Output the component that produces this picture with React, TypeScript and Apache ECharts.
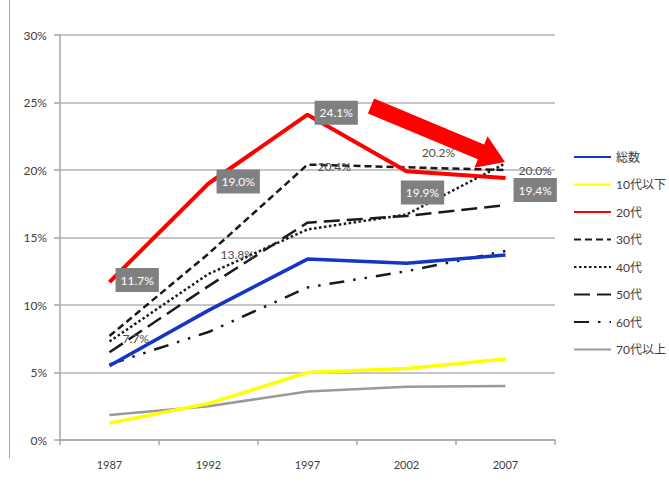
import React, { useEffect, useRef } from "react";
import * as echarts from "echarts";

const years = ["1987", "1992", "1997", "2002", "2007"];
const seriesNames = ["総数", "10代以下", "20代", "30代", "40代", "50代", "60代", "70代以上"];
const total = [5.5, 9.6, 13.4, 13.1, 13.7];
const teens = [1.25, 2.7, 5.0, 5.3, 6.0];
const twenties = [11.7, 19.0, 24.1, 19.9, 19.4];
const thirties = [7.7, 13.8, 20.4, 20.2, 20.0];
const forties = [7.3, 12.3, 15.6, 16.7, 20.5];
const fifties = [6.5, 11.4, 16.1, 16.6, 17.4];
const sixties = [5.6, 8.0, 11.3, 12.5, 14.0];
const seventies = [1.85, 2.5, 3.6, 3.95, 4.0];
const yTicks = [0, 5, 10, 15, 20, 25, 30];

const FONT = "Lato, 'Noto Sans CJK JP', sans-serif";

// label placement (style only)
const redLabelPos = [
  { position: "right", distance: 6, offset: [0, -2] },
  { position: "right", distance: 8, offset: [0, -2] },
  { position: "right", distance: 7, offset: [0, -2] },
  { position: "bottom", distance: 9, offset: [16, 0] },
  { position: "right", distance: 8, offset: [0, 12] },
];
const blackLabelPos = [
  { position: "right", distance: 13, offset: [0, 2] },
  { position: "right", distance: 12, offset: [0, 1] },
  { position: "right", distance: 10, offset: [0, 2] },
  { position: "top", distance: 9, offset: [32, 0] },
  { position: "right", distance: 13, offset: [0, 0] },
];

const fmt = (v: number) => v.toFixed(1) + "%";

export default function App() {
  const ref = useRef<HTMLDivElement>(null);
  useEffect(() => {
    if (!ref.current) return;
    const chart = echarts.init(ref.current, undefined, { renderer: "svg" });

    const mk = (name: string, data: any[], color: string, width: number, type: any, z = 2) => ({
      name,
      type: "line",
      data,
      symbol: "none",
      z,
      lineStyle: { color, width, type, cap: "butt" },
      itemStyle: { color },
    });

    const labelSeries = (name: string, vals: number[], pos: any[], extra: any, z: number) => ({
      name,
      type: "line",
      z,
      silent: true,
      symbol: "circle",
      symbolSize: 0.1,
      showSymbol: true,
      itemStyle: { color: "rgba(0,0,0,0)" },
      lineStyle: { width: 0, opacity: 0 },
      data: vals.map((v, i) => ({
        value: v,
        label: {
          show: true,
          formatter: fmt(v),
          position: pos[i].position,
          distance: pos[i].distance,
          offset: pos[i].offset,
          fontSize: 12,
          fontFamily: FONT,
          ...extra,
        },
      })),
    });

    // arrow polygon geometry
    const T = [505, 162];
    const S = [371, 106];
    const dx = T[0] - S[0], dy = T[1] - S[1];
    const L = Math.hypot(dx, dy);
    const u = [dx / L, dy / L];
    const p = [-u[1], u[0]];
    const B = [T[0] - 26 * u[0], T[1] - 26 * u[1]];
    const pt = (c: number[], k: number) => [c[0] + k * p[0], c[1] + k * p[1]];
    const arrowPts = [pt(S, 8), pt(S, -8), pt(B, -8), pt(B, -17), T, pt(B, 17), pt(B, 8)];

    chart.setOption({
      animation: false,
      textStyle: { fontFamily: FONT },
      grid: { left: 60, right: 114, top: 35, bottom: 44, containLabel: false },
      legend: {
        orient: "vertical",
        left: 573,
        top: 151,
        padding: 0,
        itemWidth: 37,
        itemHeight: 14,
        itemGap: 15.5,
        data: seriesNames,
        itemStyle: { opacity: 0 },
        textStyle: { fontSize: 12, color: "#404040", fontFamily: FONT },
      },
      xAxis: {
        type: "category",
        data: years,
        boundaryGap: true,
        axisLine: { lineStyle: { color: "#a6a6a6", width: 1.5 } },
        axisTick: { show: true, length: 5, lineStyle: { color: "#a6a6a6", width: 1.5 } },
        axisLabel: { color: "#404040", fontSize: 11, margin: 19, fontFamily: FONT },
      },
      yAxis: {
        type: "value",
        min: 0,
        max: 30,
        interval: 5,
        axisLine: { show: true, lineStyle: { color: "#a6a6a6", width: 1.5 } },
        axisTick: { show: true, length: 6, lineStyle: { color: "#a6a6a6", width: 1.5 } },
        axisLabel: {
          color: "#404040",
          fontSize: 12,
          margin: 13,
          formatter: (v: number) => (yTicks.includes(v) ? v + "%" : ""),
          fontFamily: FONT,
        },
        splitLine: { lineStyle: { color: "#b3b3b3", width: 1.5 } },
      },
      series: [
        mk(seriesNames[0], total, "#1536c4", 3.5, "solid", 3),
        mk(seriesNames[1], teens, "#ffff00", 3.5, "solid", 3),
        mk(seriesNames[2], twenties, "#ff0000", 4, "solid", 4),
        mk(seriesNames[3], thirties, "#1a1a1a", 2.5, [7, 4], 3),
        mk(seriesNames[4], forties, "#1a1a1a", 2.5, [2.5, 2.5], 2),
        mk(seriesNames[5], fifties, "#1a1a1a", 2.5, [16, 7], 2),
        mk(seriesNames[6], sixties, "#1a1a1a", 2.5, [15, 9, 2.5, 9, 2.5, 9], 2),
        mk(seriesNames[7], seventies, "#999999", 2.5, "solid", 2),
        labelSeries("20代ラベル", twenties, redLabelPos, {
          color: "#ffffff",
          backgroundColor: "#808080",
          lineHeight: 15,
          padding: [5, 5, 4, 5],
        }, 6),
        labelSeries("30代ラベル", thirties, blackLabelPos, { color: "#4d4d4d" }, 5),
      ],
      graphic: [
        {
          type: "line",
          shape: { x1: 9.5, y1: 0, x2: 9.5, y2: 458 },
          style: { stroke: "#a6a6a6", lineWidth: 1 },
        },
        {
          type: "polygon",
          shape: { points: arrowPts },
          style: { fill: "#ff0000" },
          z: 100,
        },
      ],
    });
    return () => chart.dispose();
  }, []);
  return (
    <div
      ref={ref}
      style={{ position: "absolute", left: 0, top: 0, width: 669, height: 484, background: "#fff" }}
    />
  );
}
